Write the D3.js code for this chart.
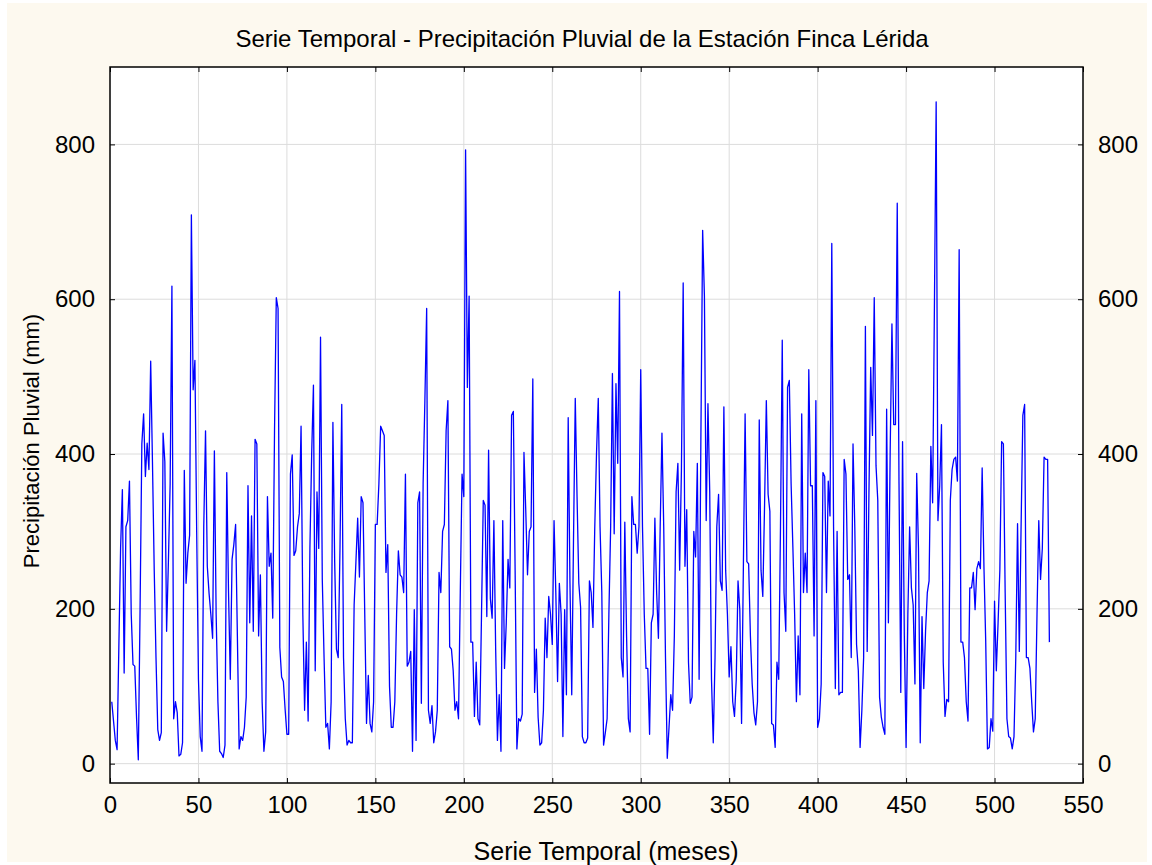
<!DOCTYPE html>
<html><head><meta charset="utf-8">
<script src="https://cdn.jsdelivr.net/npm/d3@7"></script>
<style>html,body{margin:0;padding:0;background:#fff;}svg{display:block;}</style>
</head><body><div id="chart"></div>
<script>
const title = "Serie Temporal - Precipitación Pluvial de la Estación Finca Lérida";
const xLabel = "Serie Temporal (meses)";
const yLabel = "Precipitación Pluvial (mm)";
const xTicks = [0,50,100,150,200,250,300,350,400,450,500,550];
const yTicks = [0,200,400,600,800];
// monthly rainfall (mm), months 1..531
const rain1 = [80,55,30,18,150,280,354,117,306,314,365,193,128,126,60,5,200,413,452,371,414,380,520,390,250,137,44,30,40,427,390,171,260,362,617,58,80,66,10,12,27,379,233,272,295,709,483,521];
const rain2 = [300,109,35,16,306,430,255,220,193,162,404,193,80,16,13,8,24,376,221,109,264,283,309,165,19,35,30,47,86,359,182,320,171,419,413,165,244,80,16,41,345,255,272,188,430,602,588];
const rain3 = [150,112,106,70,38,38,374,399,269,275,306,323,436,193,69,157,55,278,400,489,120,351,278,551,238,137,47,52,19,80,441,261,148,137,278,464,137,58,24,30,27,27,205,260,317,241,345,337,193];
const rain4 = [52,114,52,41,80,309,309,362,436,430,424,247,283,100,47,47,80,193,275,244,241,221,374,126,131,145,16,199,30,337,351,78,362,470,588,69,52,75,27,41,69,247,221,300,309,430,469];
const rain5 = [151,148,120,69,80,58,221,374,345,793,486,604,157,157,61,131,58,50,193,340,334,190,405,213,188,314,148,30,89,16,314,123,182,264,227,450,455,250,19,58,55,64,402,328,244,300,306,497,92];
const rain6 = [148,60,24,27,69,188,137,216,193,154,314,221,106,233,193,35,199,89,447,233,89,289,472,345,233,202,35,27,27,33,236,221,176,303,400,472,306,221,24,40,58,193,306,504,297,491,388,610,137];
const rain7 = [112,312,165,58,41,345,309,309,272,306,509,306,193,123,123,38,182,193,317,221,162,306,427,306,137,7,47,89,69,165,351,388,250,379,621,255,328,131,78,86,300,267,388,109,419,689,604];
const rain8 = [314,465,351,109,27,137,306,348,236,224,461,250,193,112,151,80,61,109,236,199,52,250,452,261,258,165,103,66,50,80,444,250,216,334,469,348,326,52,50,21,131,109,306,547,221,171,486,495];
const rain9 = [362,280,193,80,165,89,452,221,272,221,509,359,359,165,469,47,58,103,376,371,221,365,320,672,306,97,300,89,92,92,393,374,238,244,137,413,306,154,120,21,69,137,565,145,350,512,424,602];
const rain10 = [385,340,86,60,47,38,458,182,402,568,438,438,724,362,92,416,165,21,193,306,227,205,103,375,278,27,190,97,171,221,236,410,337,588,855,314,359,438,131,61,83,80,340,380,393,396,365,664];
const rain11 = [157,157,137,80,55,227,227,247,199,252,261,252,382,255,159,19,21,58,42,210,120,182,250,416,413,221,58,35,33,19,35,137,310,145,306,450,464,137,137,123,80,41,58,193,314,238,278,396,393,393,157];
const rain = [].concat(rain1,rain2,rain3,rain4,rain5,rain6,rain7,rain8,rain9,rain10,rain11);
const months = rain.map((_, i) => i + 1);

const W = 1152, H = 865;
const L = 110, R = 1083, T = 67, B = 783;
const svg = d3.select("#chart").append("svg").attr("width", W).attr("height", H)
  .style("font-family", "Arial, 'Liberation Sans', sans-serif");
svg.append("rect").attr("x",0).attr("y",0).attr("width",W).attr("height",H).attr("fill","#ffffff");
svg.append("rect").attr("x",7).attr("y",3).attr("width",W-12).attr("height",H-6).attr("fill","#fdf9ef");
svg.append("rect").attr("x",L).attr("y",T).attr("width",R-L).attr("height",B-T).attr("fill","#ffffff");

const x = d3.scaleLinear().domain([0,550]).range([L,R]);
const y = d3.scaleLinear().domain([-25,900]).range([B,T]);

// grid
svg.append("g").selectAll("line").data(xTicks.slice(1,-1)).join("line")
  .attr("x1",d=>x(d)).attr("x2",d=>x(d)).attr("y1",T).attr("y2",B)
  .attr("stroke","#dcdcdc").attr("stroke-width",1);
svg.append("g").selectAll("line").data(yTicks).join("line")
  .attr("x1",L).attr("x2",R).attr("y1",d=>y(d)).attr("y2",d=>y(d))
  .attr("stroke","#dcdcdc").attr("stroke-width",1);

// axes with inward ticks
const fs = "24px";
const ax = svg.append("g");
ax.append("g").attr("transform",`translate(0,${B})`)
  .call(d3.axisBottom(x).tickValues(xTicks).tickSize(-5).tickPadding(13).tickFormat(d3.format("d")))
  .call(g=>{g.select(".domain").remove();g.selectAll("text").style("font-size",fs).attr("fill","#000");});
ax.append("g").attr("transform",`translate(0,${T})`)
  .call(d3.axisTop(x).tickValues(xTicks).tickSize(-5).tickFormat(""))
  .call(g=>g.select(".domain").remove());
ax.append("g").attr("transform",`translate(${L},0)`)
  .call(d3.axisLeft(y).tickValues(yTicks).tickSize(-5).tickPadding(15).tickFormat(d3.format("d")))
  .call(g=>{g.select(".domain").remove();g.selectAll("text").style("font-size",fs).attr("fill","#000");});
ax.append("g").attr("transform",`translate(${R},0)`)
  .call(d3.axisRight(y).tickValues(yTicks).tickSize(-5).tickPadding(15).tickFormat(d3.format("d")))
  .call(g=>{g.select(".domain").remove();g.selectAll("text").style("font-size",fs).attr("fill","#000");});
ax.selectAll(".tick line").attr("stroke","#000");

// series
svg.append("path").datum(rain)
  .attr("d", d3.line().x((d,i)=>x(months[i])).y(d=>y(d)))
  .attr("fill","none").attr("stroke","#0000ff").attr("stroke-width",1.3).attr("stroke-linejoin","round");

// frame
svg.append("rect").attr("x",L).attr("y",T).attr("width",R-L).attr("height",B-T)
  .attr("fill","none").attr("stroke","#000").attr("stroke-width",1.5);

// texts
svg.append("text").attr("x",582).attr("y",47).attr("text-anchor","middle")
  .style("font-size","24px").text(title);
svg.append("text").attr("x",606).attr("y",860).attr("text-anchor","middle")
  .style("font-size","25px").text(xLabel);
svg.append("text").attr("transform",`translate(39,441) rotate(-90)`).attr("text-anchor","middle")
  .style("font-size","22px").text(yLabel);
</script></body></html>
